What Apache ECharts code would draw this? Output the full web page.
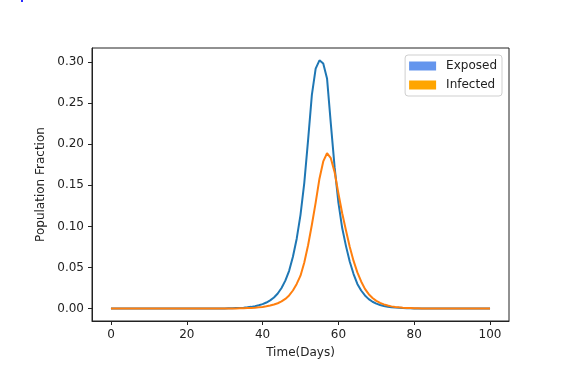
<!DOCTYPE html>
<html><head><meta charset="utf-8">
<script src="https://cdn.jsdelivr.net/npm/echarts@6/dist/echarts.min.js"></script>
<style>html,body{margin:0;padding:0;background:#fff}#c{width:567px;height:369px}</style>
</head><body><div id="c"></div>
<script>
// time steps (days 0..100)
const days = Array.from({length: 101}, (_, i) => i);
// Exposed fraction per day
const exposed = [
  0,0,0,0,0,0,0,0,0,0,
  0,0,0,0,0,0,0,0,0,0,
  0,0,0,0,0,0.0001,0.0001,0.0001,0.0001,0.0002,
  0.0002,0.0003,0.0004,0.0006,0.0008,0.0011,0.0015,0.0021,0.0029,0.0040,
  0.0054,0.0074,0.0100,0.0135,0.0183,0.025,0.034,0.046,0.063,0.085,
  0.114,0.153,0.205,0.260,0.292,0.302,0.298,0.280,0.225,0.172,
  0.129,0.098,0.076,0.057,0.042,0.030,0.022,0.016,0.0115,0.0083,
  0.006,0.0044,0.0032,0.0023,0.0017,0.0012,0.0009,0.0006,0.0004,0.0003,
  0.0002,0.0002,0.0001,0.0001,0,0,0,0,0,0,
  0,0,0,0,0,0,0,0,0,0,
  0
];
// Infected fraction per day
const infected = [
  0,0,0,0,0,0,0,0,0,0,
  0,0,0,0,0,0,0,0,0,0,
  0,0,0,0,0,0,0,0,0,0,
  0.0001,0.0001,0.0002,0.0002,0.0003,0.0004,0.0006,0.0008,0.0011,0.0015,
  0.0020,0.0028,0.0037,0.0049,0.0065,0.0087,0.0118,0.016,0.022,0.030,
  0.040,0.056,0.077,0.102,0.129,0.158,0.179,0.189,0.183,0.166,
  0.140,0.116,0.095,0.075,0.058,0.044,0.033,0.024,0.0175,0.0128,
  0.0094,0.0069,0.0051,0.0037,0.0027,0.002,0.0015,0.0011,0.0008,0.0006,
  0.0004,0.0003,0.0002,0.0002,0.0001,0.0001,0,0,0,0,
  0,0,0,0,0,0,0,0,0,0,
  0
];
const xTicks = [0, 20, 40, 60, 80, 100];
const yTicks = [0, 0.05, 0.10, 0.15, 0.20, 0.25, 0.30];
const seriesNames = ['Exposed', 'Infected'];

const FONT = 'DejaVu Sans';
const TXT = '#222';
const chart = echarts.init(document.getElementById('c'), null, {renderer: 'canvas'});
chart.setOption({
  animation: false,
  backgroundColor: '#fff',
  textStyle: {fontFamily: FONT},
  graphic: [{type: 'rect', left: 21, top: 0, shape: {width: 2, height: 2}, style: {fill: '#2b2bff'}}],
  grid: {left: 92, right: 58, top: 48, bottom: 48, show: true, borderColor: '#222', borderWidth: 1, backgroundColor: 'transparent'},
  legend: {
    orient: 'vertical', right: 65, top: 55,
    itemWidth: 27, itemHeight: 9, itemGap: 5,
    padding: [4, 5, 4, 4],
    borderColor: '#cfcfcf', borderWidth: 1, borderRadius: 3,
    textStyle: {fontSize: 12, fontFamily: FONT, color: TXT, lineHeight: 14, padding: [0, 0, 0, 5]},
    data: [
      {name: seriesNames[0], icon: 'rect', itemStyle: {color: '#6495ED', borderWidth: 0}},
      {name: seriesNames[1], icon: 'rect', itemStyle: {color: '#FFA500', borderWidth: 0}}
    ]
  },
  xAxis: {
    type: 'value', min: -5, max: 105,
    name: 'Time(Days)', nameLocation: 'middle', nameGap: 26,
    nameTextStyle: {fontSize: 12, fontFamily: FONT, color: TXT},
    axisLine: {onZero: false, lineStyle: {color: '#222', width: 1}},
    axisTick: {show: true, length: 4, customValues: xTicks, lineStyle: {color: '#222'}},
    axisLabel: {customValues: xTicks, fontSize: 12, fontFamily: FONT, color: TXT, margin: 8},
    splitLine: {show: false}
  },
  yAxis: {
    type: 'value', min: -0.0151, max: 0.317,
    name: 'Population Fraction', nameLocation: 'middle', nameGap: 43,
    nameTextStyle: {fontSize: 12, fontFamily: FONT, color: TXT},
    axisLine: {show: true, onZero: false, lineStyle: {color: '#222', width: 1}},
    axisTick: {show: true, length: 4, customValues: yTicks, lineStyle: {color: '#222'}},
    axisLabel: {customValues: yTicks, fontSize: 12, fontFamily: FONT, color: TXT, margin: 8,
      formatter: v => v.toFixed(2)},
    splitLine: {show: false}
  },
  series: [
    {name: seriesNames[0], type: 'line', data: days.map((d, i) => [d, exposed[i]]),
      showSymbol: false, symbol: 'none', lineStyle: {color: '#1f77b4', width: 2}, itemStyle: {color: '#1f77b4'}},
    {name: seriesNames[1], type: 'line', data: days.map((d, i) => [d, infected[i]]),
      showSymbol: false, symbol: 'none', lineStyle: {color: '#ff7f0e', width: 2}, itemStyle: {color: '#ff7f0e'}}
  ]
});
</script></body></html>
